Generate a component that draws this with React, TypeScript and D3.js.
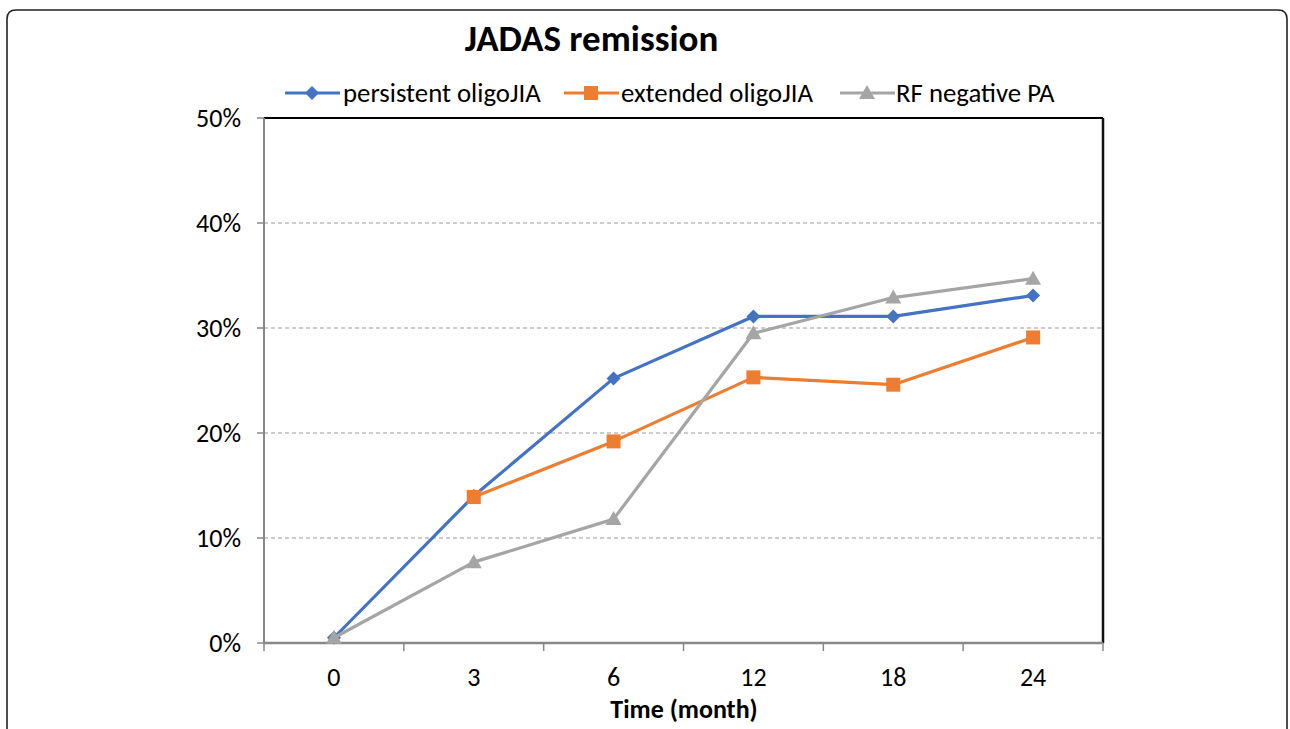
import React from "react";
import * as d3 from "d3";

const categories = ["0", "3", "6", "12", "18", "24"];
const persistent = [0.5, 14.0, 25.2, 31.1, 31.1, 33.1];
const extended = [null, 13.9, 19.2, 25.3, 24.6, 29.1];
const rfNegative = [0.5, 7.7, 11.8, 29.5, 32.9, 34.7];
const yTicks = [0, 10, 20, 30, 40, 50];

const seriesNames = ["persistent oligoJIA", "extended oligoJIA", "RF negative PA"];
const seriesColors = ["#4472C4", "#ED7D31", "#A5A5A5"];
const seriesMarkers = ["diamond", "square", "triangle"];

const FONT = "Carlito, Calibri, 'Liberation Sans', Arial, sans-serif";

function Marker({ type, x, y, color }: { type: string; x: number; y: number; color: string }) {
  if (type === "diamond") {
    const r = 7;
    return <path d={`M${x},${y - r}L${x + r},${y}L${x},${y + r}L${x - r},${y}Z`} fill={color} />;
  }
  if (type === "square") {
    const s = 14;
    return <rect x={x - s / 2} y={y - s / 2} width={s} height={s} fill={color} />;
  }
  const r = 8;
  return <path d={`M${x},${y - r}L${x + r},${y + r * 0.75}L${x - r},${y + r * 0.75}Z`} fill={color} />;
}

export default function App() {
  const W = 1290, H = 729;
  const left = 264, right = 1103, top = 118, bottom = 643;
  const x = d3.scaleBand().domain(categories).range([left, right]);
  const y = d3.scaleLinear().domain([0, 50]).range([bottom, top]);
  const cx = (c: string) => (x(c) as number) + x.bandwidth() / 2;
  const allSeries = [persistent, extended, rfNegative];
  const line = d3
    .line<{ c: string; v: number | null }>()
    .defined((d) => d.v !== null)
    .x((d) => cx(d.c))
    .y((d) => y(d.v as number));

  const legendItems = [
    { lx: 285, tx: 343 },
    { lx: 564, tx: 621 },
    { lx: 840, tx: 896 },
  ];

  return (
    <svg width={W} height={H} style={{ position: "absolute", left: 0, top: 0, background: "#fff" }}>
      <rect x={0} y={0} width={W} height={H} fill="#fff" />
      <path
        d={`M7,${H + 20}L7,19Q7,10 16,10L1278,10Q1287,10 1287,19L1287,${H + 20}`}
        fill="none"
        stroke="#222"
        strokeWidth={1.6}
      />
      <text x={591.5} y={51} textAnchor="middle" fontFamily={FONT} fontWeight="bold" fontSize={37} fill="#000">
        JADAS remission
      </text>

      {/* legend */}
      {seriesNames.map((n, i) => (
        <g key={n}>
          <line x1={legendItems[i].lx} x2={legendItems[i].lx + 55} y1={93} y2={93} stroke={seriesColors[i]} strokeWidth={3.2} />
          <Marker type={seriesMarkers[i]} x={legendItems[i].lx + 27} y={93} color={seriesColors[i]} />
          <text x={legendItems[i].tx} y={102} fontFamily={FONT} fontSize={26.8} fill="#000">
            {n}
          </text>
        </g>
      ))}

      {/* gridlines */}
      {yTicks
        .filter((t) => t > 0 && t < 50)
        .map((t) => (
          <line key={t} x1={left} x2={right} y1={y(t)} y2={y(t)} stroke="#999" strokeWidth={1} strokeDasharray="4,3" />
        ))}

      {/* plot border top/right */}
      <line x1={left} x2={right} y1={top} y2={top} stroke="#000" strokeWidth={2} />
      <line x1={right} x2={right} y1={top} y2={bottom} stroke="#111" strokeWidth={2.5} />

      {/* y axis */}
      <line x1={left} x2={left} y1={top} y2={bottom} stroke="#888" strokeWidth={2} />
      {yTicks.map((t) => (
        <g key={t}>
          <line x1={left - 7} x2={left} y1={y(t)} y2={y(t)} stroke="#888" strokeWidth={1.5} />
          <text x={241} y={y(t) + 9} textAnchor="end" fontFamily={FONT} fontSize={26} fill="#000">
            {t}%
          </text>
        </g>
      ))}

      {/* x axis */}
      <line x1={left} x2={right} y1={bottom} y2={bottom} stroke="#888" strokeWidth={2.5} />
      {[...categories.map((c) => x(c) as number), right].map((p, i) => (
        <line key={i} x1={p} x2={p} y1={bottom} y2={bottom + 8} stroke="#888" strokeWidth={1.5} />
      ))}
      {categories.map((c) => (
        <text key={c} x={cx(c)} y={686} textAnchor="middle" fontFamily={FONT} fontSize={26} fill="#000">
          {c}
        </text>
      ))}
      <text x={684} y={718} textAnchor="middle" fontFamily={FONT} fontWeight="bold" fontSize={26} fill="#000">
        Time (month)
      </text>

      {/* series */}
      {allSeries.map((s, i) => {
        const pts = categories.map((c, j) => ({ c, v: s[j] }));
        return (
          <g key={i}>
            <path d={line(pts) || ""} fill="none" stroke={seriesColors[i]} strokeWidth={3.2} strokeLinejoin="round" />
            {pts
              .filter((p) => p.v !== null)
              .map((p) => (
                <Marker key={p.c} type={seriesMarkers[i]} x={cx(p.c)} y={y(p.v as number)} color={seriesColors[i]} />
              ))}
          </g>
        );
      })}
    </svg>
  );
}
